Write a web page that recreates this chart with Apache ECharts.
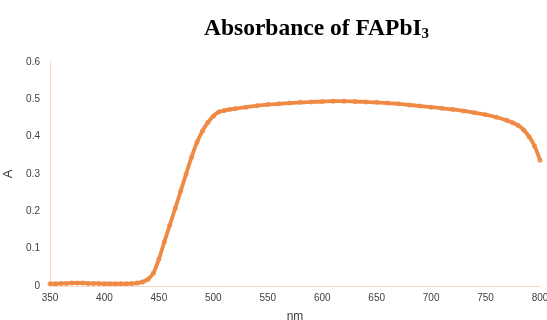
<!DOCTYPE html>
<html><head><meta charset="utf-8">
<script src="https://cdn.jsdelivr.net/npm/echarts@6/dist/echarts.min.js"></script>
<style>html,body{margin:0;padding:0;background:#fff}#c{width:547px;height:320px}</style>
</head><body><div id="c"></div>
<script>
const wavelengths = [350,355,360,365,370,375,380,385,390,395,400,405,410,415,420,425,430,435,440,445,450,455,460,465,470,475,480,485,490,495,500,505,510,515,520,530,540,550,560,570,580,590,600,610,620,630,640,650,660,670,680,690,700,710,720,730,740,750,760,770,775,780,785,790,795,800];
const absorbance = [0.006,0.006,0.007,0.007,0.008,0.008,0.008,0.007,0.007,0.007,0.006,0.006,0.006,0.006,0.006,0.007,0.008,0.011,0.018,0.035,0.072,0.118,0.163,0.208,0.254,0.300,0.345,0.385,0.415,0.438,0.455,0.466,0.470,0.473,0.475,0.479,0.483,0.486,0.488,0.490,0.492,0.493,0.494,0.495,0.495,0.494,0.493,0.492,0.490,0.488,0.485,0.482,0.479,0.476,0.473,0.469,0.464,0.459,0.452,0.443,0.437,0.430,0.418,0.400,0.375,0.337];
const xTicks = {min:350, max:800, step:50};
const yTicks = {min:0, max:0.6, step:0.1};

const chart = echarts.init(document.getElementById('c'));
chart.setOption({
  animation:false,
  title:{
    text:'{m|Absorbance of FAPbI}{s|3}',
    left:199, top:10,
    textStyle:{rich:{
      m:{fontFamily:'Liberation Serif',fontWeight:'bold',fontSize:23.5,color:'#000'},
      s:{fontFamily:'Liberation Serif',fontWeight:'bold',fontSize:15,color:'#000',verticalAlign:'bottom',padding:[12,0,0,0]}
    }}
  },
  grid:{left:50,right:7,top:62,bottom:34,containLabel:false,outerBoundsMode:'none'},
  xAxis:{
    type:'value',min:xTicks.min,max:xTicks.max,interval:xTicks.step,
    name:'nm',nameLocation:'middle',nameGap:25,
    nameTextStyle:{fontFamily:'Liberation Sans',fontSize:12,color:'#404040'},
    axisLine:{show:true,lineStyle:{color:'#F8D9C4',width:1}},
    axisTick:{show:false},
    splitLine:{show:false},
    axisLabel:{fontFamily:'Liberation Sans',fontSize:10,color:'#404040',margin:7,showMaxLabel:true}
  },
  yAxis:{
    type:'value',min:yTicks.min,max:yTicks.max,interval:yTicks.step,
    name:'A',nameLocation:'middle',nameGap:32,
    nameTextStyle:{fontFamily:'Liberation Sans',fontSize:13,color:'#404040'},
    axisLine:{show:true,lineStyle:{color:'#F8D9C4',width:1}},
    axisTick:{show:false},
    splitLine:{show:false},
    axisLabel:{fontFamily:'Liberation Sans',fontSize:10,color:'#404040',margin:10,formatter:v=>String(Math.round(v*10)/10)}
  },
  series:[{
    type:'line',
    data:wavelengths.map((w,i)=>[w,absorbance[i]]),
    smooth:0.3,
    showSymbol:true,symbol:'circle',symbolSize:5,
    itemStyle:{color:'#F08A45',opacity:0.85},
    lineStyle:{color:'#ED7D31',width:3.8,opacity:0.9}
  }]
});
</script></body></html>
